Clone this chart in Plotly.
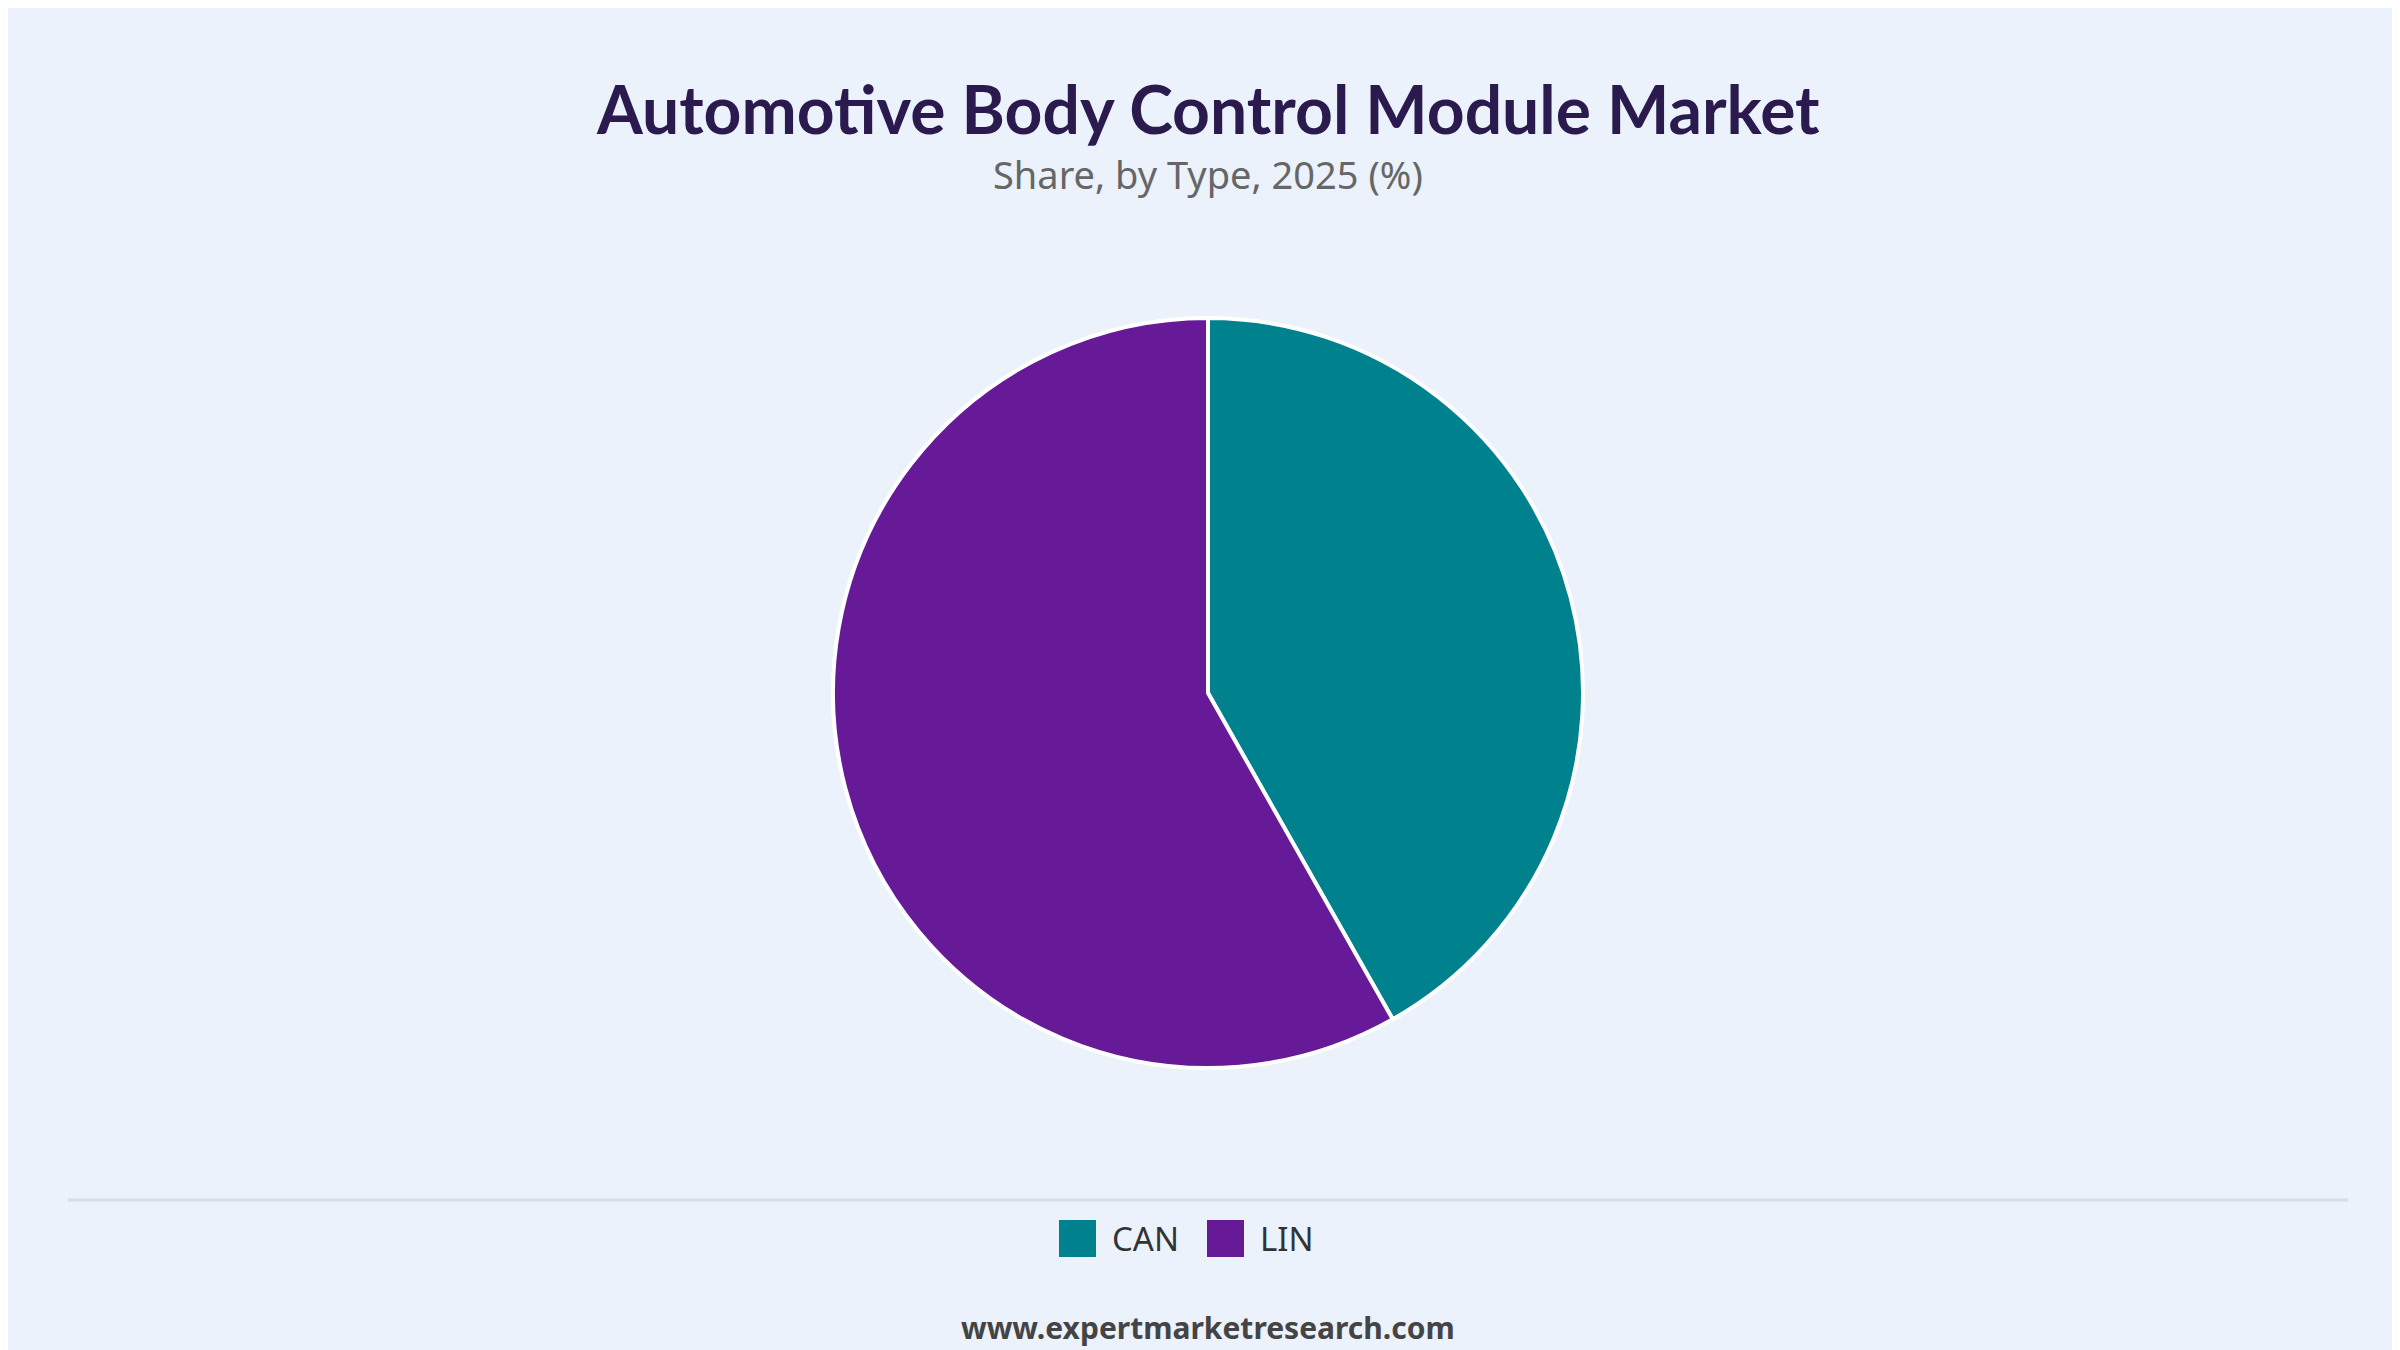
import plotly.graph_objects as go

types = ["CAN", "LIN"]
shares = [41.8, 58.2]
colors = ["#00818E", "#671A97"]

W, H = 2400, 1350

def py(px):
    return 1 - px / H

def pxx(px):
    return px / W

fig = go.Figure()
fig.add_trace(go.Pie(
    labels=types, values=shares, sort=False, direction="clockwise", rotation=0,
    marker=dict(colors=colors, line=dict(color="white", width=4)),
    textinfo="none", hoverinfo="label+percent", showlegend=False,
    domain=dict(x=[0.1, 0.9], y=[py(1060), py(310)]),
))

annotations = [
    dict(text="<b>Automotive Body Control Module Market</b>", x=0.5, y=py(100),
         xref="paper", yref="paper", showarrow=False, yanchor="middle",
         font=dict(family="Lato", size=66, color="#2A1A4E", weight=900)),
    dict(text="Share, by Type, 2025 (%)", x=0.5, y=py(166),
         xref="paper", yref="paper", showarrow=False, yanchor="middle",
         font=dict(family="Noto Sans", size=38, color="#666666")),
    dict(text="<b>www.expertmarketresearch.com</b>", x=0.5, y=py(1319),
         xref="paper", yref="paper", showarrow=False, yanchor="middle",
         font=dict(family="Noto Sans", size=30, color="#444444")),
]
shapes = [dict(type="line", xref="paper", yref="paper", x0=0.025, x1=0.975,
               y0=py(1192), y1=py(1192), line=dict(color="#D8DDE3", width=3))]

# manual legend
legend_x = [1052, 1200]
for name, col, lx in zip(types, colors, legend_x):
    shapes.append(dict(type="rect", xref="paper", yref="paper",
                       x0=pxx(lx), x1=pxx(lx + 35), y0=py(1248), y1=py(1213),
                       fillcolor=col, line=dict(color=col, width=2)))
    annotations.append(dict(text=name, x=pxx(lx + 50), y=py(1230), xref="paper", yref="paper",
                            showarrow=False, xanchor="left", yanchor="middle",
                            font=dict(family="Noto Sans", size=33, color="#333333")))

fig.update_layout(
    width=W, height=H,
    paper_bgcolor="#EBF2FC", plot_bgcolor="#EBF2FC",
    margin=dict(l=0, r=0, t=0, b=0),
    annotations=annotations, shapes=shapes,
)

fig.write_html("out.html")
